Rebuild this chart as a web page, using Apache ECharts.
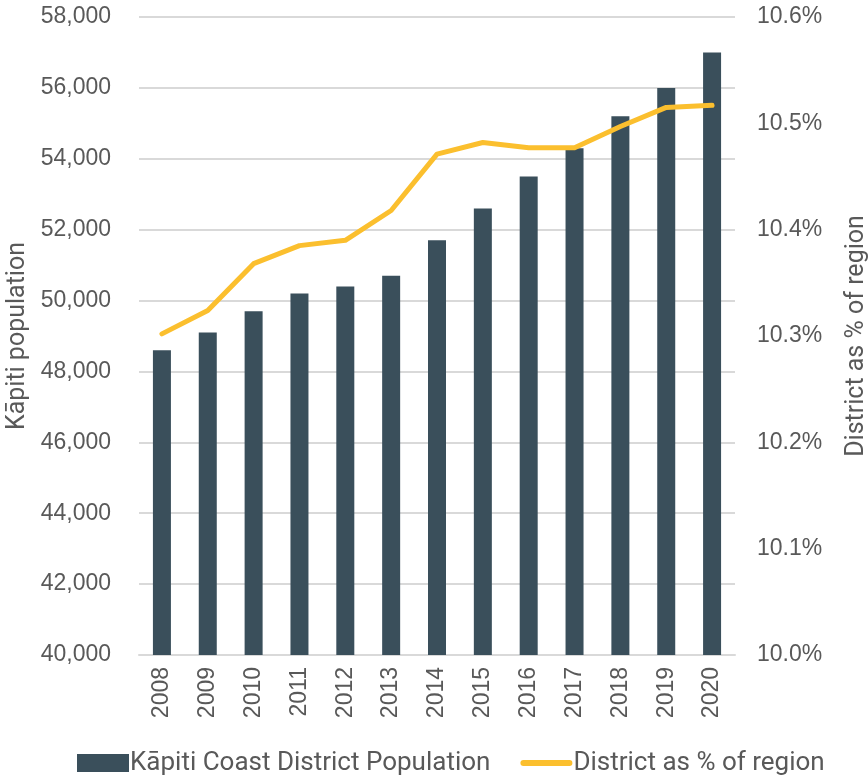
<!DOCTYPE html>
<html>
<head>
<meta charset="utf-8">
<script src="https://cdn.jsdelivr.net/npm/echarts@6/dist/echarts.min.js"></script>
<style>
  html, body { margin: 0; padding: 0; background: #fff; }
  #chart { width: 868px; height: 776px; }
</style>
</head>
<body>
<div id="chart"></div>
<script>
// data
var years = ['2008', '2009', '2010', '2011', '2012', '2013', '2014', '2015', '2016', '2017', '2018', '2019', '2020']
var population = [48600, 49100, 49700, 50200, 50400, 50700, 51700, 52600, 53500, 54300, 55200, 56000, 57000]
var shareOfRegion = [10.302, 10.324, 10.368, 10.385, 10.390, 10.418, 10.471, 10.482, 10.477, 10.477, 10.497, 10.515, 10.517]

var labelFont = 'Liberation Sans'
var nameFont = 'Roboto'
var grey = '#595959'

var chart = echarts.init(document.getElementById('chart'))
chart.setOption({
  animation: false,
  grid: { left: 139, right: 133, top: 17, bottom: 121, outerBoundsMode: 'none' },
  legend: {
    top: 745,
    left: 72,
    itemWidth: 52,
    itemHeight: 18,
    itemGap: 30,
    textStyle: { fontFamily: nameFont, fontSize: 26, color: grey, padding: [0, 0, 0, -4] },
    data: [
      { name: 'Kāpiti Coast District Population', icon: 'rect' },
      {
        name: 'District as % of region',
        icon: 'path://M3,0 L49,0 A3,3 0 0 1 49,6 L3,6 A3,3 0 0 1 3,0 Z',
        itemStyle: { color: '#fbbf2e' }
      }
    ]
  },
  xAxis: {
    type: 'category',
    data: years,
    axisTick: { show: false },
    axisLine: { lineStyle: { color: '#d9d9d9', width: 2 } },
    axisLabel: { rotate: 90, margin: 12, fontFamily: labelFont, fontSize: 23, color: grey }
  },
  yAxis: [
    {
      type: 'value',
      min: 40000,
      max: 58000,
      interval: 2000,
      name: 'Kāpiti population',
      nameLocation: 'middle',
      nameGap: 107,
      nameTextStyle: { fontFamily: nameFont, fontSize: 25, color: grey },
      axisLabel: {
        margin: 28,
        fontFamily: labelFont,
        fontSize: 23,
        color: grey,
        formatter: function (v) { return v.toLocaleString('en-US') }
      },
      splitLine: { lineStyle: { color: '#d9d9d9', width: 2 } }
    },
    {
      type: 'value',
      min: 10.0,
      max: 10.6,
      interval: 0.1,
      position: 'right',
      name: 'District as % of region',
      nameLocation: 'middle',
      nameGap: 109,
      nameRotate: 90,
      nameTextStyle: { fontFamily: nameFont, fontSize: 25, color: grey },
      axisLabel: {
        margin: 22,
        fontFamily: labelFont,
        fontSize: 23,
        color: grey,
        formatter: function (v) { return v.toFixed(1) + '%' }
      },
      splitLine: { show: false }
    }
  ],
  series: [
    {
      name: 'Kāpiti Coast District Population',
      type: 'bar',
      data: population,
      barWidth: 18,
      itemStyle: { color: '#3a4f5b' }
    },
    {
      name: 'District as % of region',
      type: 'line',
      yAxisIndex: 1,
      data: shareOfRegion,
      showSymbol: false,
      lineStyle: { color: '#fbbf2e', width: 5, cap: 'round', join: 'round' },
      itemStyle: { color: '#fbbf2e' }
    }
  ]
})
</script>
</body>
</html>
